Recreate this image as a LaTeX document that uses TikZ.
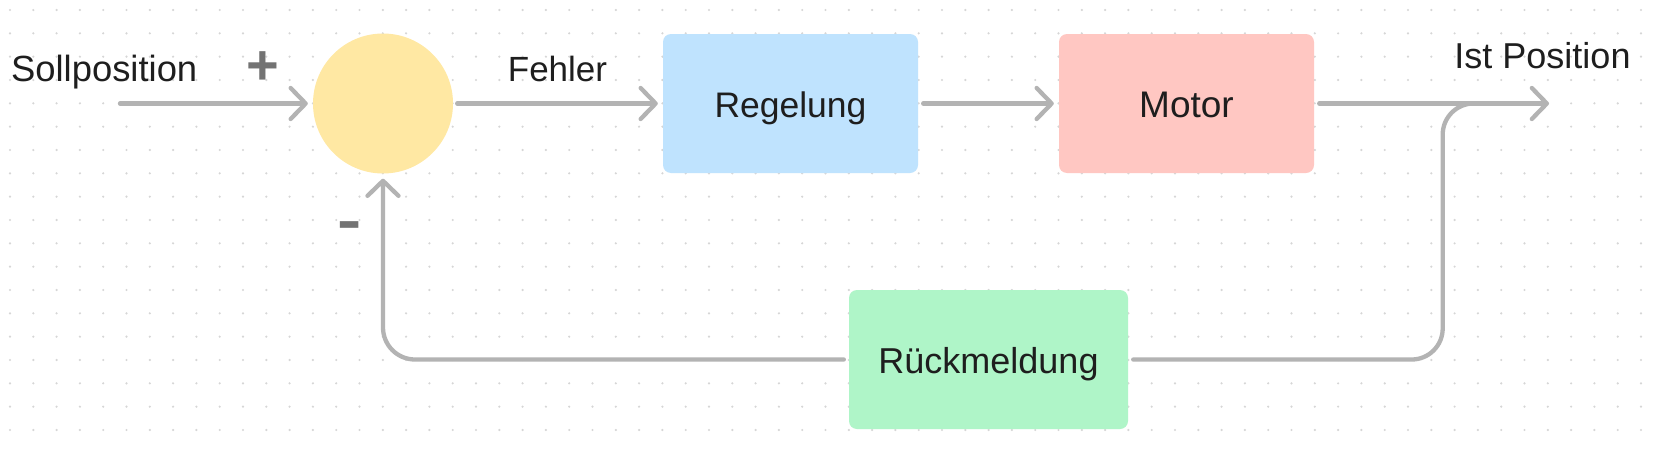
\documentclass[tikz,border=0pt]{standalone}
\usepackage{fontspec}
\setmainfont{Liberation Sans}
\usetikzlibrary{arrows.meta}
\definecolor{linegray}{HTML}{B3B3B3}
\definecolor{dotgray}{HTML}{D6D6D6}
\definecolor{txt}{HTML}{1E1E1E}
\definecolor{signgray}{HTML}{737373}
\definecolor{sumfill}{HTML}{FFE8A3}
\definecolor{regfill}{HTML}{BFE3FE}
\definecolor{motfill}{HTML}{FFC7C2}
\definecolor{rueckfill}{HTML}{AFF5C8}
\newcommand{\fsz}[1]{\fontsize{#1}{#1}\selectfont}
\begin{document}
\begin{tikzpicture}[x=1pt,y=-1pt,
  box/.style={rectangle, rounded corners=8pt, minimum width=255pt, minimum height=139pt,
    inner sep=0pt, text height=27.4pt, text depth=0pt, text=txt,
    font=\fsz{35.5pt}},
  lbl/.style={inner sep=0pt, text=txt, font=\fsz{36pt}},
  sign/.style={inner sep=0pt, text=signgray, font=\fsz{56pt}\bfseries},
  conn/.style={draw=linegray, line width=4.3pt, line cap=round, line join=round},
  arr/.style={conn, -{Straight Barb[length=15pt, width=31pt, line width=4.3pt, round]}},
]
\useasboundingbox (0,0) rectangle (1657,450);
\fill[white] (0,0) rectangle (1657,450);
% dot grid
\foreach \i in {0,...,70}{
  \foreach \j in {0,...,18}{
    \fill[dotgray] (10+23.3*\i, 10+23.333*\j) circle (1.2pt);
  }
}
% nodes
\node[circle, fill=sumfill, minimum size=140pt, inner sep=0pt] (sum) at (383,103.5) {};
\node[box, fill=regfill] (reg) at (790.5,103.5) {Regelung};
\node[box, fill=motfill, font=\fsz{37pt}] (mot) at (1186.5,103.5) {Motor};
\node[box, fill=rueckfill, minimum width=279pt, font=\fsz{36pt}] (rueck) at (988.5,359.5) {Rückmeldung};
\node[lbl, anchor=base, font=\fsz{36.4pt}] (soll) at (104.2,81.5) {Sollposition};
\node[lbl, anchor=base, font=\fsz{35pt}] (fehler) at (557.5,81) {Fehler};
\node[lbl, anchor=base] (ist) at (1542.5,68.3) {Ist Position};
\node[sign] (plus) at (262.5,68.5) {+};
\node[sign] (minus) at (350,231) {\scalebox{1.3}[1]{-}};
\coordinate (in) at (120,103.5);
\coordinate (out) at (1549,103.5);
\coordinate (tapA) at (1485,103.5);
\coordinate (tap) at (1442.7,103.5);
\coordinate (fbR) at (1442.7,359.5);
\coordinate (fbL) at (383,359.5);
% connectors
\draw[arr] (in) -- ([xshift=-5pt]sum.west);
\draw[arr] ([xshift=4pt]sum.east) -- ([xshift=-5pt]reg.west);
\draw[arr] ([xshift=5pt]reg.east) -- ([xshift=-5pt]mot.west);
\draw[arr] ([xshift=5pt]mot.east) -- (out);
\draw[conn, rounded corners=31pt] (tapA) -- (tap) -- (fbR) -- ([xshift=5pt]rueck.east);
\draw[arr, rounded corners=32pt] ([xshift=-5pt]rueck.west) -- (fbL) -- ([yshift=-5pt]sum.south);
\end{tikzpicture}
\end{document}
